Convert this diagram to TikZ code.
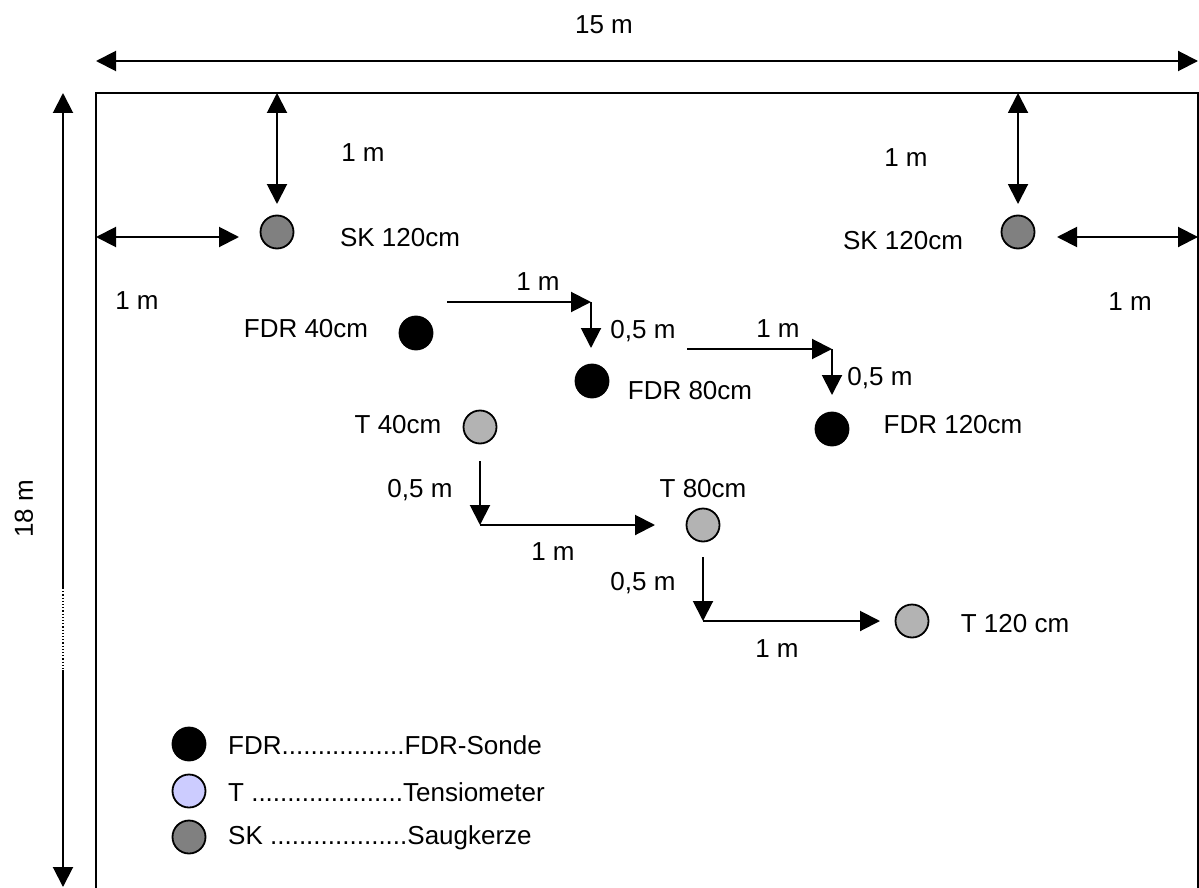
\documentclass[tikz,border=0pt]{standalone}
\usepackage{fontspec}
\setmainfont{Liberation Sans}
\usetikzlibrary{arrows.meta}
\definecolor{tgray}{HTML}{B3B3B3}
\definecolor{skgray}{HTML}{808080}
\definecolor{tlegend}{HTML}{CCCCFF}
\begin{document}
\begin{tikzpicture}[x=1pt,y=-1pt,
  tip/.tip={Triangle[length=20pt,width=20pt]},
  dim/.style={line width=2pt,-tip},
  dimb/.style={line width=2pt,tip-tip},
  lbl/.style={font=\fontsize{26}{30}\selectfont, inner sep=0pt},
  probe/.style={circle, draw, line width=1.8pt, minimum size=33pt, inner sep=0pt},
  fdr/.style={probe, fill=black},
  tens/.style={probe, fill=tgray},
  sk/.style={probe, fill=skgray}]
\useasboundingbox (0,0) rectangle (1199,888);
\clip (0,0) rectangle (1199,888);

% field border
\draw[line width=2.5pt] (96,890) -- (96,93) -- (1198,93) -- (1198,890);

% overall dimensions
\coordinate (wl) at (96,61);
\coordinate (wr) at (1198,61);
\draw[dimb] (wl) -- (wr);
\node[lbl] (w) at (604,25) {15 m};

\coordinate (ht) at (63,93);
\coordinate (hm1) at (63,588);
\coordinate (hm2) at (63,670);
\coordinate (hb) at (63,887);
\draw[line width=2pt,tip-] (ht) -- (hm1);
\draw[line width=1.2pt,dotted] (hm1) -- (hm2);
\draw[line width=2pt,-tip] (hm2) -- (hb);
\node[lbl,rotate=90] (h) at (24,509) {18 m};

% suction cups
\node[sk] (sk1) at (277,232) {};
\node[sk] (sk2) at (1018,232) {};
\node[lbl] (sk1l) at (400,238) {SK 120cm};
\node[lbl] (sk2l) at (903,241) {SK 120cm};

\coordinate (sk1t) at (277,93);
\coordinate (sk1a) at (277,204);
\draw[dimb] (sk1t) -- (sk1a);
\node[lbl] (sk1v) at (363,153) {1 m};
\coordinate (sk1w) at (96,237);
\coordinate (sk1b) at (239,237);
\draw[dimb] (sk1w) -- (sk1b);
\node[lbl] (sk1h) at (137,301) {1 m};

\coordinate (sk2t) at (1018,93);
\coordinate (sk2a) at (1018,204);
\draw[dimb] (sk2t) -- (sk2a);
\node[lbl] (sk2v) at (906,158) {1 m};
\coordinate (sk2b) at (1057,237);
\coordinate (sk2w) at (1198,237);
\draw[dimb] (sk2b) -- (sk2w);
\node[lbl] (sk2h) at (1130,302) {1 m};

% FDR probes
\node[fdr] (f40) at (416,333) {};
\node[fdr] (f80) at (592,381) {};
\node[fdr] (f120) at (832,429) {};
\node[lbl] (f40l) at (306,329) {FDR 40cm};
\node[lbl] (f80l) at (690,391) {FDR 80cm};
\node[lbl] (f120l) at (953,425) {FDR 120cm};

\coordinate (fa1) at (447,302);
\coordinate (fc1) at (591,302);
\coordinate (fe1) at (591,348);
\draw[dim] (fa1) -- (fc1);
\draw[dim] (fc1) -- (fe1);
\node[lbl] (fl1) at (538,282) {1 m};
\node[lbl] (fl2) at (643,331) {0,5 m};

\coordinate (fa2) at (687,349);
\coordinate (fc2) at (832,349);
\coordinate (fe2) at (832,395);
\draw[dim] (fa2) -- (fc2);
\draw[dim] (fc2) -- (fe2);
\node[lbl] (fl3) at (778,329) {1 m};
\node[lbl] (fl4) at (880,378) {0,5 m};

% tensiometers
\node[tens] (t40) at (480,427) {};
\node[tens] (t80) at (703,525) {};
\node[tens] (t120) at (912,621) {};
\node[lbl] (t40l) at (398,425) {T 40cm};
\node[lbl] (t80l) at (703,489) {T 80cm};
\node[lbl] (t120l) at (1015,624) {T 120 cm};

\coordinate (ta1) at (480,461);
\coordinate (tc1) at (480,525);
\coordinate (te1) at (655,525);
\draw[dim] (ta1) -- (tc1);
\draw[dim] (tc1) -- (te1);
\node[lbl] (tl1) at (420,490) {0,5 m};
\node[lbl] (tl2) at (553,552) {1 m};

\coordinate (ta2) at (703,557);
\coordinate (tc2) at (703,621);
\coordinate (te2) at (880,621);
\draw[dim] (ta2) -- (tc2);
\draw[dim] (tc2) -- (te2);
\node[lbl] (tl3) at (643,583) {0,5 m};
\node[lbl] (tl4) at (777,649) {1 m};

% legend
\node[probe,fill=black] (lg1) at (189,744) {};
\node[probe,fill=tlegend] (lg2) at (189,791) {};
\node[probe,fill=skgray] (lg3) at (189,837) {};
\node[lbl,anchor=west] (lt1) at (228,745) {FDR.................FDR-Sonde};
\node[lbl,anchor=west] (lt2) at (228,792) {T .....................Tensiometer};
\node[lbl,anchor=west] (lt3) at (228,838) {SK ...................Saugkerze};
\end{tikzpicture}
\end{document}
